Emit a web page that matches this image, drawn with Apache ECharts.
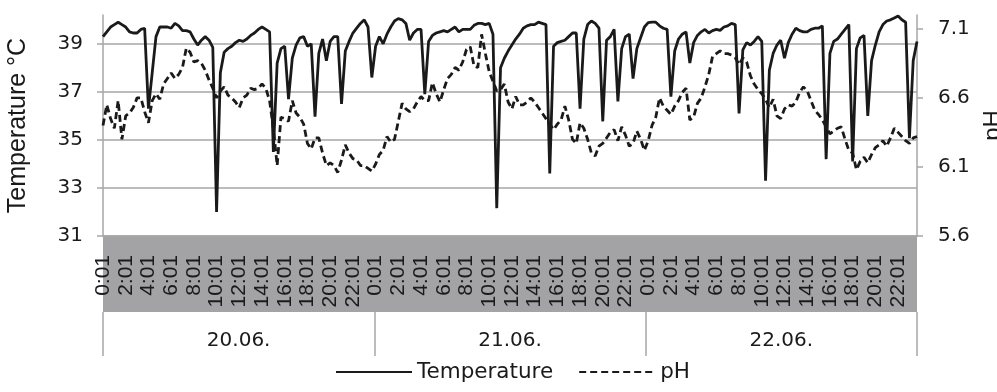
<!DOCTYPE html>
<html>
<head>
<meta charset="utf-8">
<script src="https://cdn.jsdelivr.net/npm/echarts@6/dist/echarts.min.js"></script>
<style>
  html, body { margin: 0; padding: 0; background: #fff; }
  #chart { width: 997px; height: 392px; }
</style>
</head>
<body>
<div id="chart"></div>
<script>
const days = ['20.06.', '21.06.', '22.06.'];
const stepMinutes = 20; // one reading every 20 min, first one at 0:01

// temperature in °C, one row = 4 hours
const temperature = [
  39.3, 39.5, 39.7, 39.8, 39.9, 39.8, 39.7, 39.5, 39.45, 39.45, 39.6, 39.65,
  36.3, 37.8, 39.3, 39.7, 39.7, 39.7, 39.65, 39.85, 39.75, 39.55, 39.55, 39.5,
  39.2, 38.95, 39.15, 39.3, 39.15, 38.85, 32.0, 37.8, 38.65, 38.8, 38.9, 39.05,
  39.15, 39.1, 39.2, 39.35, 39.45, 39.6, 39.7, 39.6, 39.5, 34.5, 38.2, 38.8,
  38.9, 36.7, 38.4, 38.95, 39.25, 39.3, 38.9, 39.0, 35.97, 38.6, 39.2, 38.3,
  39.1, 39.3, 39.3, 36.5, 38.7, 39.1, 39.45, 39.65, 39.85, 40.0, 39.7, 37.6,
  38.9, 39.3, 39.0, 39.4, 39.7, 39.95, 40.05, 40.0, 39.85, 39.15, 39.45, 39.6,
  39.6, 36.9, 39.1, 39.35, 39.45, 39.5, 39.55, 39.5, 39.6, 39.7, 39.5, 39.6,
  39.6, 39.6, 39.77, 39.85, 39.85, 39.8, 39.85, 39.4, 32.16, 38.0, 38.4, 38.7,
  38.95, 39.2, 39.4, 39.65, 39.75, 39.8, 39.8, 39.9, 39.85, 39.8, 33.6, 38.9,
  39.05, 39.1, 39.15, 39.3, 39.45, 39.45, 36.3, 39.2, 39.8, 39.95, 39.85, 39.65,
  35.77, 39.15, 39.3, 39.6, 36.6, 38.8, 39.3, 39.4, 37.55, 38.8, 39.25, 39.7,
  39.88, 39.9, 39.9, 39.75, 39.65, 39.6, 36.8, 38.7, 39.2, 39.4, 39.5, 38.2,
  39.05, 39.35, 39.5, 39.6, 39.45, 39.55, 39.6, 39.56, 39.7, 39.75, 39.85, 39.8,
  36.1, 38.75, 39.05, 38.95, 39.1, 39.3, 39.1, 33.3, 37.9, 38.6, 38.95, 39.15,
  38.4, 39.05, 39.4, 39.65, 39.55, 39.5, 39.5, 39.6, 39.65, 39.65, 39.75, 34.2,
  38.6, 39.1, 39.2, 39.4, 39.6, 39.8, 34.1, 38.8, 39.25, 39.35, 36.0, 38.3,
  38.95, 39.5, 39.8, 39.95, 40.0, 40.08, 40.16, 40.0, 39.9, 35.07, 38.3, 39.1
];

const ph = [
  6.40, 6.55, 6.45, 6.38, 6.58, 6.30, 6.47, 6.49, 6.53, 6.60, 6.60, 6.50,
  6.42, 6.58, 6.63, 6.59, 6.70, 6.74, 6.78, 6.74, 6.77, 6.82, 6.96, 6.93,
  6.86, 6.87, 6.85, 6.80, 6.73, 6.67, 6.60, 6.65, 6.68, 6.62, 6.60, 6.57,
  6.53, 6.60, 6.62, 6.67, 6.66, 6.67, 6.70, 6.67, 6.58, 6.38, 6.11, 6.46,
  6.45, 6.43, 6.58, 6.49, 6.46, 6.41, 6.27, 6.23, 6.31, 6.31, 6.20, 6.11,
  6.13, 6.11, 6.06, 6.15, 6.26, 6.20, 6.16, 6.15, 6.11, 6.11, 6.09, 6.07,
  6.12, 6.19, 6.22, 6.32, 6.28, 6.30, 6.43, 6.56, 6.52, 6.50, 6.52, 6.57,
  6.61, 6.58, 6.58, 6.71, 6.63, 6.57, 6.66, 6.74, 6.77, 6.82, 6.80, 6.86,
  6.95, 6.97, 6.83, 6.82, 7.06, 6.92, 6.79, 6.72, 6.65, 6.66, 6.70, 6.57,
  6.52, 6.61, 6.55, 6.55, 6.57, 6.60, 6.57, 6.53, 6.49, 6.45, 6.41, 6.37,
  6.41, 6.44, 6.54, 6.44, 6.30, 6.27, 6.42, 6.38, 6.30, 6.20, 6.18, 6.25,
  6.27, 6.31, 6.35, 6.37, 6.29, 6.39, 6.33, 6.25, 6.27, 6.36, 6.30, 6.22,
  6.29, 6.40, 6.46, 6.60, 6.54, 6.51, 6.48, 6.54, 6.58, 6.64, 6.67, 6.44,
  6.46, 6.56, 6.60, 6.68, 6.77, 6.90, 6.92, 6.94, 6.92, 6.92, 6.91, 6.89,
  6.84, 6.89, 6.86, 6.76, 6.70, 6.66, 6.63, 6.59, 6.53, 6.59, 6.47, 6.45,
  6.52, 6.55, 6.54, 6.57, 6.64, 6.68, 6.65, 6.58, 6.51, 6.48, 6.44, 6.39,
  6.34, 6.36, 6.38, 6.39, 6.30, 6.22, 6.20, 6.08, 6.14, 6.17, 6.13, 6.19,
  6.24, 6.26, 6.29, 6.25, 6.31, 6.38, 6.35, 6.32, 6.29, 6.27, 6.31, 6.32
];

// time of day labels, 0:01, 0:21, 0:41 ... for every day
const times = [];
days.forEach(() => {
  for (let m = 1; m < 1440; m += stepMinutes) {
    times.push(Math.floor(m / 60) + ':' + String(m % 60).padStart(2, '0'));
  }
});

const gray = '#a6a6a6';
const ink = '#1a1a1a';
const wide = '"DejaVu Sans", Verdana, sans-serif';
const narrow = '"Liberation Sans", Arial, sans-serif';

const chart = echarts.init(document.getElementById('chart'), null, { renderer: 'canvas' });

chart.setOption({
  animation: false,
  backgroundColor: '#fff',
  textStyle: { fontFamily: wide, color: ink },
  grid: { left: 103, right: 80, top: 15, bottom: 156, outerBoundsMode: 'none', containLabel: false },
  graphic: [
    {
      // grey band behind the time labels
      type: 'rect',
      z: -1,
      shape: { x: 103, y: 236, width: 814, height: 76 },
      style: { fill: '#a3a3a5' }
    }
  ],
  legend: {
    data: ['Temperature', 'pH'],
    bottom: 4,
    left: 330,
    itemWidth: 76,
    itemHeight: 14,
    itemGap: 25,
    itemStyle: { opacity: 0 },
    textStyle: { fontSize: 21.5, color: ink, fontFamily: wide }
  },
  xAxis: [
    {
      type: 'category',
      data: times,
      boundaryGap: false,
      axisLine: { show: true, lineStyle: { color: gray, width: 1.5 } },
      axisTick: { show: false },
      axisLabel: { interval: 5, rotate: 90, fontSize: 21, margin: 19, color: ink, fontFamily: narrow }
    },
    {
      type: 'category',
      data: days,
      position: 'bottom',
      offset: 76,
      boundaryGap: true,
      axisLine: { show: false },
      axisTick: { show: true, interval: 0, length: 44, lineStyle: { color: gray, width: 1.5 } },
      axisLabel: { interval: 0, fontSize: 20, margin: 19, color: ink }
    }
  ],
  yAxis: [
    {
      type: 'value',
      position: 'left',
      min: 31,
      max: 40.2,
      interval: 2,
      name: 'Temperature °C',
      nameLocation: 'middle',
      nameRotate: 90,
      nameGap: 72,
      nameTextStyle: { fontSize: 25, color: ink, fontFamily: narrow },
      axisLine: { show: true, lineStyle: { color: gray, width: 1.5 } },
      axisTick: { show: true, length: 6, lineStyle: { color: gray, width: 1.5 } },
      axisLabel: { fontSize: 20, margin: 20, color: ink, showMaxLabel: false },
      splitLine: { show: true, showMaxLine: false, lineStyle: { color: gray, width: 1.5 } }
    },
    {
      type: 'value',
      position: 'right',
      min: 5.6,
      max: 7.2,
      interval: 0.5,
      name: 'pH',
      nameLocation: 'middle',
      nameRotate: 90,
      nameGap: 64,
      nameTextStyle: { fontSize: 24, color: ink, fontFamily: narrow },
      axisLine: { show: true, lineStyle: { color: gray, width: 1.5 } },
      axisTick: { show: true, length: 6, lineStyle: { color: gray, width: 1.5 } },
      axisLabel: { fontSize: 20, margin: 21, color: ink, showMaxLabel: false,
        formatter: v => v.toFixed(1) },
      splitLine: { show: false }
    }
  ],
  series: [
    {
      name: 'pH',
      type: 'line',
      xAxisIndex: 0,
      yAxisIndex: 1,
      data: ph,
      symbol: 'none',
      itemStyle: { color: ink },
      lineStyle: { color: ink, width: 2.8, type: [7, 4] }
    },
    {
      name: 'Temperature',
      type: 'line',
      xAxisIndex: 0,
      yAxisIndex: 0,
      data: temperature,
      symbol: 'none',
      itemStyle: { color: ink },
      lineStyle: { color: ink, width: 2.8 }
    }
  ]
});

window.addEventListener('resize', () => chart.resize());
</script>
</body>
</html>
